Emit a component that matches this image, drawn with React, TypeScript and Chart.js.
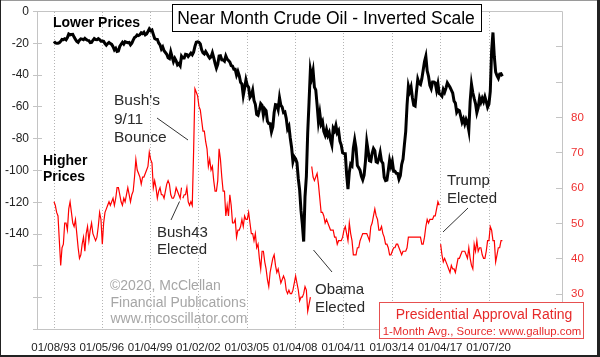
import React, { useEffect, useRef } from 'react';
import { Chart, registerables } from 'chart.js';

Chart.register(...registerables);

const FONT = '"Liberation Sans", Arial, sans-serif';

// Monthly x positions start here (Jan 1993)
const START_YEAR = 1993;

// Near-month crude oil, monthly ($/bbl) – plotted inverted
const oil1990s = [
  19.1, 20.1, 20.3, 20.3, 19.9, 19.1, 17.9, 18.0, 17.5, 18.1, 16.7, 14.5,
  15.0, 14.8, 14.7, 16.4, 17.9, 19.1, 19.7, 18.4, 17.5, 17.7, 18.1, 17.2,
  18.0, 18.5, 18.6, 19.9, 19.7, 18.4, 17.3, 17.9, 18.0, 17.4, 18.0, 19.0,
  18.9, 19.1, 20.5, 21.5, 20.5, 19.8, 20.5, 21.0, 22.5, 24.5, 23.5, 25.4,
  25.2, 22.3, 20.9, 19.7, 20.8, 19.3, 19.7, 19.9, 19.8, 21.3, 20.2, 18.3,
  16.7, 16.1, 15.0, 15.4, 14.9, 13.7, 14.2, 13.4, 15.0, 14.4, 12.9, 11.3,
  12.5, 12.0, 14.7, 17.3, 17.8, 17.9, 20.1, 21.3, 23.9, 22.6, 25.0, 26.1,
];
const oil2000s = [
  27.2, 29.4, 29.9, 25.7, 28.8, 31.8, 29.7, 31.3, 33.9, 33.1, 34.4, 28.4,
  29.6, 29.6, 27.2, 27.4, 28.6, 27.6, 26.5, 27.5, 25.9, 22.2, 19.6, 19.4,
  19.7, 20.7, 24.4, 26.3, 27.0, 25.5, 26.9, 28.4, 29.7, 28.9, 26.3, 29.4,
  32.9, 35.9, 33.5, 28.3, 28.1, 30.7, 30.8, 31.6, 28.3, 30.3, 31.1, 32.1,
  34.3, 34.7, 36.7, 36.7, 40.3, 38.0, 40.7, 44.9, 45.9, 53.1, 48.5, 43.3,
  46.8, 48.0, 54.3, 53.0, 49.8, 56.3, 58.7, 65.0, 65.6, 62.3, 58.3, 59.4,
  65.5, 61.6, 62.7, 69.4, 70.8, 70.9, 76.0, 73.0, 63.8, 58.9, 59.1, 62.0,
  54.5, 59.3, 60.4, 63.9, 63.5, 67.5, 74.1, 72.4, 79.9, 85.8, 94.8, 91.7,
  93.0, 95.4, 105.5, 112.6, 125.4, 134.0, 145.0, 116.7, 104.1, 76.6, 57.3, 37.0,
  41.7, 37.5, 47.9, 49.6, 59.0, 69.6, 64.2, 71.1, 69.4, 75.7, 78.0, 74.5,
];
const oil2010s = [
  78.3, 76.4, 81.2, 84.3, 73.7, 75.3, 72.0, 76.6, 75.2, 81.9, 84.3, 89.2,
  89.6, 89.7, 102.9, 112.0, 101.3, 96.3, 97.3, 86.3, 81.0, 86.3, 97.2, 98.6,
  100.2, 104.0, 106.2, 103.3, 94.7, 82.3, 87.9, 94.1, 94.5, 89.5, 86.5, 87.9,
  94.8, 95.3, 92.9, 89.0, 94.5, 95.8, 104.6, 106.6, 106.3, 100.5, 93.9, 97.6,
  94.6, 100.8, 100.8, 102.1, 102.2, 105.8, 103.6, 96.5, 93.2, 84.4, 75.8, 59.3,
  47.2, 50.6, 47.8, 54.5, 59.3, 59.8, 50.9, 42.9, 45.5, 46.2, 42.7, 37.3,
  31.8, 28.5, 37.6, 41.0, 46.7, 48.8, 44.7, 44.7, 45.2, 49.8, 45.7, 52.0,
  52.5, 53.5, 49.3, 51.1, 48.5, 45.2, 46.6, 48.0, 49.8, 51.6, 56.6, 57.9,
  63.7, 62.2, 62.7, 66.3, 70.0, 67.9, 71.0, 68.1, 70.2, 75.0, 57.0, 46.0,
  51.4, 55.0, 58.2, 63.9, 60.8, 54.7, 57.4, 54.8, 57.0, 54.0, 57.0, 60.5,
];
const oil2020 = [58.5, 50.5, 25.0, 13.5, 28.6, 38.3, 40.7, 42.3, 39.6, 39.4, 41.0];

// Gallup presidential approval, 1-month average (%)
const clintonApproval = [
  56, 55, 53, 52, 45, 38, 43, 44, 50, 50, 48, 54,
  56, 53, 50, 49, 51, 47, 43, 40, 41, 44, 46, 42,
  47, 49, 45, 48, 50, 47, 46, 45, 46, 49, 53, 51,
  44, 50, 53, 54, 55, 56, 55, 56, 57, 55, 57, 60,
  60, 58, 56, 55, 57, 56, 58, 60, 58, 56, 58, 59,
  63, 68, 65, 64, 63, 61, 63, 63, 64, 65, 66, 70,
  68, 67, 60, 62, 60, 57, 59, 60, 58, 58, 57, 59,
  61, 62, 61, 58, 57, 57, 58, 60, 59, 58, 57, 60,
];
const bushApproval = [
  57, 58, 58, 60, 56, 55, 56, 55, 70, 88, 87, 86,
  83, 82, 79, 76, 76, 73, 71, 66, 68, 65, 66, 62,
  59, 59, 62, 71, 68, 63, 59, 59, 52, 55, 52, 58,
  55, 50, 50, 51, 46, 48, 48, 49, 51, 49, 52, 51,
  51, 53, 50, 47, 47, 45, 47, 43, 44, 40, 37, 42,
  42, 39, 37, 34, 32, 36, 38, 40, 41, 38, 36, 37,
  35, 33, 34, 35, 34, 31, 30, 31, 30, 30, 31, 33,
  35, 33, 31, 28, 29, 29, 30, 32, 31, 25, 27, 29,
];
const obamaApproval = [
  66, 63, 62, 63, 64, 61, 57, 53, 53, 52, 50, 51,
  50, 49, 48, 48, 48, 46, 46, 44, 45, 45, 45, 46,
  48, 49, 47, 45, 50, 47, 45, 41, 41, 41, 43, 43,
  45, 46, 47, 47, 47, 47, 46, 45, 49, 50, 52, 54,
  52, 51, 48, 48, 49, 47, 46, 44, 44, 43, 41, 41,
  42, 43, 43, 44, 44, 43, 42, 41, 42, 42, 42, 43,
  46, 46, 46, 46, 46, 46, 46, 46, 46, 46, 44, 44,
  46, 49, 51, 50, 51, 51, 51, 52, 52, 54, 56, 55,
];
const trumpApproval = [
  44, 41, 39, 40, 39, 38, 37, 36, 38, 37, 37, 36,
  38, 40, 40, 41, 42, 42, 42, 41, 40, 43, 40, 38,
  37, 44, 42, 45, 42, 43, 43, 41, 40, 40, 42, 45,
  45, 49, 48, 45, 45, 39, 41, 43, 43, 45, 45,
];
const clintonStart = 1993;
const bushStart = 2001;
const obamaStart = 2009;
const trumpStart = 2017;

// Axis ticks
const xTickValues = [1993.02, 1996.01, 1999.01, 2002.0, 2005.01, 2008.01, 2011.01, 2014.01, 2017.01, 2020.02];
const xTickLabels = ['01/08/93', '01/05/96', '01/04/99', '01/02/02', '01/03/05', '01/04/08', '01/04/11', '01/03/14', '01/04/17', '01/07/20'];
const leftTickValues = [-200, -180, -160, -140, -120, -100, -80, -60, -40, -20, 0];
const leftLabelValues = [-140, -120, -100, -80, -60, -40, -20, 0];
const rightTickValues = [30, 40, 50, 60, 70, 80, 90, 100];
const rightLabelValues = [30, 40, 50, 60, 70, 80];

const monthly = (start: number, values: number[], sign = 1) =>
  values.map((v, i) => ({ x: start + (i + 0.5) / 12, y: sign * v }));

const decorPlugin = {
  id: 'decor',
  beforeDatasetsDraw(chart: any) {
    const { ctx, chartArea: a, scales } = chart;
    ctx.save();
    ctx.lineWidth = 1;
    // dotted vertical grid
    ctx.strokeStyle = '#b4b4b4';
    ctx.setLineDash([1, 2]);
    xTickValues.forEach((v) => {
      const px = Math.round(scales.x.getPixelForValue(v)) + 0.5;
      ctx.beginPath();
      ctx.moveTo(px, a.top + 1);
      ctx.lineTo(px, a.bottom);
      ctx.stroke();
    });
    ctx.setLineDash([]);
    // plot frame
    ctx.strokeStyle = '#c4c4c4';
    ctx.beginPath();
    ctx.moveTo(a.left + 0.5, a.top + 0.5);
    ctx.lineTo(a.right + 0.5, a.top + 0.5);
    ctx.lineTo(a.right + 0.5, a.bottom + 0.5);
    ctx.lineTo(a.left + 0.5, a.bottom + 0.5);
    ctx.closePath();
    ctx.stroke();
    // left tick marks
    leftTickValues.forEach((v) => {
      const py = Math.round(scales.y.getPixelForValue(v)) + 0.5;
      ctx.beginPath();
      ctx.moveTo(a.left - 4, py);
      ctx.lineTo(a.left + 5, py);
      ctx.stroke();
    });
    // right tick marks (inward)
    rightTickValues.forEach((v) => {
      const py = Math.round(scales.y2.getPixelForValue(v)) + 0.5;
      ctx.beginPath();
      ctx.moveTo(a.right - 6, py);
      ctx.lineTo(a.right + 1, py);
      ctx.stroke();
    });
    // tick labels
    ctx.textBaseline = 'middle';
    ctx.textAlign = 'right';
    ctx.fillStyle = '#222222';
    ctx.font = `12px ${FONT}`;
    leftLabelValues.forEach((v) => {
      ctx.fillText(String(v), a.left - 8, scales.y.getPixelForValue(v) + 0.5);
    });
    ctx.textAlign = 'left';
    ctx.fillStyle = '#ee3030';
    ctx.font = `11.5px ${FONT}`;
    rightLabelValues.forEach((v) => {
      ctx.fillText(String(v), a.right + 9, scales.y2.getPixelForValue(v) + 0.5);
    });
    ctx.restore();
  },
  afterDraw(chart: any) {
    const { ctx } = chart;
    ctx.save();
    const line = (x1: number, y1: number, x2: number, y2: number) => {
      ctx.beginPath();
      ctx.moveTo(x1, y1);
      ctx.lineTo(x2, y2);
      ctx.stroke();
    };
    // Title box
    ctx.fillStyle = '#ffffff';
    ctx.fillRect(172, 4, 309, 27);
    ctx.strokeStyle = '#000000';
    ctx.lineWidth = 1;
    ctx.strokeRect(172.5, 4.5, 309, 27);
    ctx.fillStyle = '#000000';
    ctx.font = `17.5px ${FONT}`;
    ctx.textAlign = 'center';
    ctx.textBaseline = 'alphabetic';
    ctx.fillText('Near Month Crude Oil - Inverted Scale', 326, 23.5);

    // Lower / Higher prices
    ctx.textAlign = 'left';
    ctx.font = `bold 14px ${FONT}`;
    ctx.fillText('Lower Prices', 53, 26.5);
    ctx.fillText('Higher', 43, 165);
    ctx.fillText('Prices', 43, 181);

    // annotations
    ctx.fillStyle = '#2a2a2a';
    ctx.strokeStyle = '#333333';
    ctx.font = `15.5px ${FONT}`;
    ctx.fillText("Bush's", 114, 105);
    ctx.fillText('9/11', 114, 123.5);
    ctx.fillText('Bounce', 114, 142);
    line(157, 118, 188, 140);

    ctx.font = `15px ${FONT}`;
    ctx.fillText('Bush43', 157, 237);
    ctx.fillText('Elected', 157, 253.5);
    line(171, 220, 179.5, 201.5);

    ctx.fillText('Obama', 315, 293.5);
    ctx.fillText('Elected', 315, 311.5);
    line(313.5, 250, 332, 272);

    ctx.fillText('Trump', 447, 184.5);
    ctx.fillText('Elected', 447, 203);
    line(443, 232, 468, 208);

    // copyright
    ctx.fillStyle = '#a6a6a6';
    ctx.font = `14px ${FONT}`;
    ctx.fillText('\u00a92020, McClellan', 110, 290);
    ctx.fillText('Financial Publications', 110.5, 306.5);
    ctx.fillText('www.mcoscillator.com', 110.5, 323);

    // Legend box
    ctx.fillStyle = '#ffffff';
    ctx.fillRect(379, 302, 204, 36);
    ctx.strokeStyle = '#e65050';
    ctx.strokeRect(379.5, 302.5, 204, 36);
    ctx.fillStyle = '#e62a2a';
    ctx.textAlign = 'center';
    ctx.font = `14px ${FONT}`;
    ctx.fillText('Presidential Approval Rating', 484, 318.5);
    ctx.font = `11.4px ${FONT}`;
    ctx.fillText('1-Month Avg., Source: www.gallup.com', 482, 335);

    // outer frame
    ctx.strokeStyle = '#9a9a9a';
    line(0, 0.5, 600, 0.5);
    ctx.fillStyle = '#222222';
    ctx.fillRect(0, 0, 1, 357);
    ctx.fillRect(597, 0, 3, 357);
    ctx.fillRect(0, 355, 600, 2);
    ctx.restore();
  },
};

export default function App() {
  const canvasRef = useRef<HTMLCanvasElement | null>(null);

  useEffect(() => {
    const canvas = canvasRef.current;
    if (!canvas) return;
    Chart.defaults.font.family = FONT;
    const oil = [...oil1990s, ...oil2000s, ...oil2010s, ...oil2020];
    const redStyle = {
      borderColor: '#ff0000',
      borderWidth: 1.2,
      pointRadius: 0,
      tension: 0,
      yAxisID: 'y2',
      xAxisID: 'x',
    };
    const chart = new Chart(canvas, {
      type: 'line',
      data: {
        datasets: [
          { ...redStyle, label: 'Clinton', data: monthly(clintonStart, clintonApproval) },
          { ...redStyle, label: 'Bush', data: monthly(bushStart, bushApproval) },
          { ...redStyle, label: 'Obama', data: monthly(obamaStart, obamaApproval) },
          { ...redStyle, label: 'Trump', data: monthly(trumpStart, trumpApproval) },
          {
            label: 'Crude Oil (inverted)',
            data: monthly(START_YEAR, oil, -1),
            borderColor: '#000000',
            borderWidth: 3,
            pointRadius: 0,
            tension: 0,
            yAxisID: 'y',
            xAxisID: 'x',
          },
        ],
      },
      options: {
        animation: false,
        responsive: false,
        maintainAspectRatio: false,
        layout: { padding: { top: 11, left: 0, right: 0, bottom: 0 } },
        plugins: { legend: { display: false }, tooltip: { enabled: false } },
        scales: {
          x: {
            type: 'linear',
            position: 'bottom',
            min: 1991.988,
            max: 2024.577,
            afterBuildTicks: (scale: any) => {
              scale.ticks = xTickValues.map((v) => ({ value: v }));
            },
            afterFit: (scale: any) => {
              scale.height = 28;
            },
            grid: { display: false, drawTicks: false },
            border: { display: false },
            ticks: {
              autoSkip: false,
              maxRotation: 0,
              padding: 12,
              color: '#222222',
              font: { size: 11.5, family: FONT },
              callback: (value: any) => {
                const i = xTickValues.findIndex((v) => Math.abs(v - Number(value)) < 1e-6);
                return i >= 0 ? xTickLabels[i] : '';
              },
            },
          },
          y: {
            type: 'linear',
            position: 'left',
            min: -200,
            max: 0,
            afterBuildTicks: (scale: any) => {
              scale.ticks = leftTickValues.map((v) => ({ value: v }));
            },
            afterFit: (scale: any) => {
              scale.width = 37;
            },
            grid: { display: false, drawTicks: false },
            border: { display: false },
            ticks: { display: false },
          },
          y2: {
            type: 'linear',
            position: 'right',
            min: 20,
            max: 110,
            afterBuildTicks: (scale: any) => {
              scale.ticks = rightTickValues.map((v) => ({ value: v }));
            },
            afterFit: (scale: any) => {
              scale.width = 38;
            },
            grid: { display: false, drawTicks: false },
            border: { display: false },
            ticks: { display: false },
          },
        },
      },
      plugins: [decorPlugin],
    });
    return () => chart.destroy();
  }, []);

  return (
    <div style={{ position: 'fixed', left: 0, top: 0, width: 600, height: 357, background: '#ffffff' }}>
      <canvas ref={canvasRef} width={600} height={357} style={{ display: 'block', width: 600, height: 357 }} />
    </div>
  );
}
